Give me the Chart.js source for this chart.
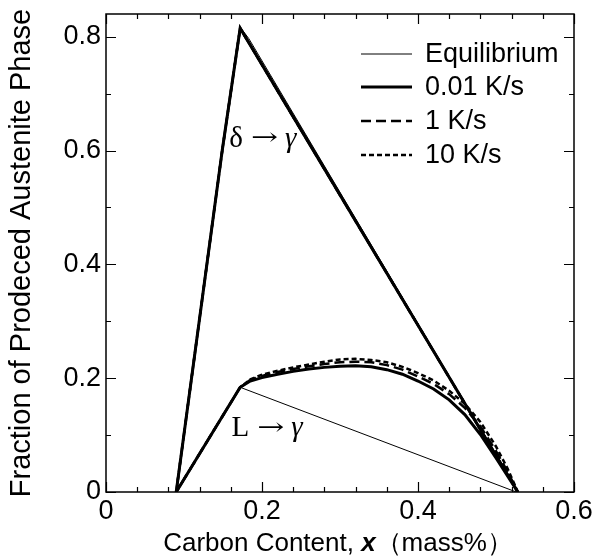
<!DOCTYPE html>
<html>
<head>
<meta charset="utf-8">
<script src="https://cdn.jsdelivr.net/npm/chart.js@4"></script>
<style>
  html, body { margin: 0; padding: 0; background: #fff; }
</style>
</head>
<body>
<canvas id="chart" width="604" height="558"></canvas>
<script>
const seriesNames = ["Equilibrium", "0.01 K/s", "1 K/s", "10 K/s"];

// delta -> gamma branch (right leg from the end point, peak, left leg down to x=0.09)
const deltaX = [0.528, 0.172, 0.149, 0.09];
const deltaY = [0, 0.815, 0.6, 0];
const deltaEqX = [0.528, 0.183, 0.172, 0.149, 0.09];
const deltaEqY = [0, 0.797, 0.817, 0.6, 0];

// L -> gamma branch
const lX = [0.09, 0.172, 0.185, 0.20, 0.22, 0.24, 0.26, 0.28, 0.30, 0.32, 0.34,
            0.36, 0.38, 0.40, 0.42, 0.44, 0.46, 0.48, 0.50, 0.515, 0.528];
const rate001 = [0, 0.184, 0.195, 0.201, 0.207, 0.212, 0.216, 0.219, 0.221, 0.222, 0.220,
                 0.215, 0.207, 0.195, 0.181, 0.162, 0.136, 0.101, 0.060, 0.028, 0];
const rate1 = [0, 0.184, 0.197, 0.204, 0.211, 0.216, 0.221, 0.225, 0.228, 0.229, 0.228,
               0.223, 0.215, 0.203, 0.190, 0.172, 0.148, 0.115, 0.072, 0.035, 0];
const rate10 = [0, 0.184, 0.198, 0.206, 0.213, 0.219, 0.224, 0.229, 0.233, 0.234, 0.232,
                0.228, 0.220, 0.209, 0.196, 0.178, 0.155, 0.123, 0.080, 0.041, 0];
const eqLX = [0.09, 0.172, 0.526];
const eqLY = [0, 0.184, 0];

const xTicks = [0, 0.04, 0.08, 0.12, 0.16, 0.2, 0.24, 0.28, 0.32, 0.36, 0.4, 0.44, 0.48, 0.52, 0.56, 0.6];
const xTickLabels = { "0": "0", "0.2": "0.2", "0.4": "0.4", "0.6": "0.6" };
const yTicks = [0, 0.1, 0.2, 0.3, 0.4, 0.5, 0.6, 0.7, 0.8];
const yTickLabels = { "0": "0", "0.2": "0.2", "0.4": "0.4", "0.6": "0.6", "0.8": "0.8" };

const sans = "'Liberation Sans', Arial, Helvetica, sans-serif";
const serif = "'Liberation Serif', 'Times New Roman', serif";

function toPoints(xs, ys) {
    return xs.map((x, i) => ({ x: x, y: ys[i] }));
}
// one continuous path per series: delta branch, then the L branch from x=0.09
function path(dx, dy, lx, ly) {
    return toPoints(dx, dy).concat(toPoints(lx, ly).slice(1));
}

// "A -> B" label, arrow stretched to a longer shape
function reaction(ctx, x, y, from, to) {
    ctx.font = "29px " + serif;
    ctx.fillText(from, x, y);
    x += ctx.measureText(from).width + 8;
    ctx.font = "24px 'DejaVu Serif', serif";
    const aw = ctx.measureText("\u2192").width;
    ctx.save();
    ctx.translate(x, y);
    ctx.scale(27 / aw, 1);
    ctx.fillText("\u2192", 0, 0);
    ctx.restore();
    x += 27 + 7;
    ctx.font = "italic 29px " + serif;
    ctx.fillText(to, x, y);
}

const frameTicks = {
    id: "frameTicks",
    afterDatasetsDraw(chart) {
        const ctx = chart.ctx;
        const a = chart.chartArea;
        const xs = chart.scales.x, ys = chart.scales.y;
        ctx.save();
        ctx.strokeStyle = "#000";
        ctx.lineWidth = 1.5;
        ctx.strokeRect(a.left, a.top, a.right - a.left, a.bottom - a.top);
        ctx.lineWidth = 1.2;
        ctx.beginPath();
        xTicks.forEach(v => {
            const px = Math.round(xs.getPixelForValue(v)) + 0.5;
            const len = xTickLabels[String(v)] ? 10 : 5;
            ctx.moveTo(px, a.bottom); ctx.lineTo(px, a.bottom - len);
            ctx.moveTo(px, a.top); ctx.lineTo(px, a.top + len);
        });
        yTicks.forEach(v => {
            const py = Math.round(ys.getPixelForValue(v)) + 0.5;
            const len = yTickLabels[String(v)] ? 10 : 5;
            ctx.moveTo(a.left, py); ctx.lineTo(a.left + len, py);
            ctx.moveTo(a.right, py); ctx.lineTo(a.right - len, py);
        });
        ctx.stroke();
        ctx.restore();
    },
    afterDraw(chart) {
        const ctx = chart.ctx;
        const xs = chart.scales.x, ys = chart.scales.y;
        ctx.save();
        ctx.fillStyle = "#000";

        // legend
        const lx0 = 361, lx1 = 412, tx = 425;
        const ly = [54, 87, 121, 155];
        ctx.textBaseline = "middle";
        ctx.textAlign = "left";
        ctx.font = "27px " + sans;
        chart.data.datasets.forEach((ds, i) => {
            ctx.strokeStyle = "#000";
            ctx.lineWidth = ds.borderWidth;
            ctx.setLineDash(ds.borderDash || []);
            ctx.beginPath();
            ctx.moveTo(lx0, ly[i]); ctx.lineTo(lx1, ly[i]);
            ctx.stroke();
            ctx.fillText(ds.label, tx, ly[i] + 1);
        });
        ctx.setLineDash([]);

        // branch annotations
        reaction(ctx, xs.getPixelForValue(0.158), ys.getPixelForValue(0.62), "\u03B4", "\u03B3");
        reaction(ctx, xs.getPixelForValue(0.161), ys.getPixelForValue(0.112), "L", "\u03B3");

        // x axis title with bold italic x
        const parts = [
            ["Carbon Content, ", "26px " + sans],
            ["x", "italic bold 26px " + sans],
            ["\uFF08mass%\uFF09", "26px " + sans]
        ];
        let w = 0;
        parts.forEach(p => { ctx.font = p[1]; w += ctx.measureText(p[0]).width; });
        let x = (chart.chartArea.left + chart.chartArea.right) / 2 - w / 2 - 2;
        ctx.textBaseline = "alphabetic";
        parts.forEach(p => {
            ctx.font = p[1];
            ctx.fillText(p[0], x, 551);
            x += ctx.measureText(p[0]).width;
        });
        ctx.restore();
    }
};

new Chart(document.getElementById("chart"), {
    type: "scatter",
    data: {
        datasets: [
            { label: seriesNames[0], data: path(deltaEqX, deltaEqY, eqLX, eqLY),
              borderWidth: 1, borderDash: [] },
            { label: seriesNames[1], data: path(deltaX, deltaY, lX, rate001),
              borderWidth: 3, borderDash: [] },
            { label: seriesNames[2], data: path(deltaX, deltaY, lX, rate1),
              borderWidth: 2.5, borderDash: [10, 5] },
            { label: seriesNames[3], data: path(deltaX, deltaY, lX, rate10),
              borderWidth: 2.5, borderDash: [5, 3] }
        ].map(ds => Object.assign(ds, {
            showLine: true, tension: 0, pointRadius: 0,
            borderColor: "#000", backgroundColor: "#000", fill: false
        }))
    },
    options: {
        responsive: false,
        animation: false,
        layout: { padding: { top: 14, right: 30, left: 0, bottom: 0 } },
        plugins: { legend: { display: false }, tooltip: { enabled: false } },
        scales: {
            x: {
                type: "linear", min: 0, max: 0.6,
                grid: { display: false, drawTicks: false },
                border: { display: false },
                afterBuildTicks: s => { s.ticks = xTicks.map(v => ({ value: v })); },
                afterFit: s => { s.height = 66; s.paddingLeft = 0; s.paddingRight = 0; },
                ticks: {
                    autoSkip: false, maxRotation: 0, padding: 3, color: "#000",
                    font: { family: sans, size: 27 },
                    callback: v => xTickLabels[String(v)] || ""
                }
            },
            y: {
                type: "linear", min: 0, max: 0.84,
                grid: { display: false, drawTicks: false },
                border: { display: false },
                afterBuildTicks: s => { s.ticks = yTicks.map(v => ({ value: v })); },
                afterFit: s => { s.width = 106; s.paddingTop = 0; s.paddingBottom = 0; },
                ticks: {
                    autoSkip: false, padding: 5, color: "#000",
                    font: { family: sans, size: 27 },
                    callback: v => yTickLabels[String(v)] || ""
                },
                title: {
                    display: true, text: "Fraction of Prodeced Austenite Phase",
                    color: "#000", font: { family: sans, size: 29 },
                    padding: { top: 5, bottom: 0 }
                }
            }
        }
    },
    plugins: [frameTicks]
});
</script>
</body>
</html>
